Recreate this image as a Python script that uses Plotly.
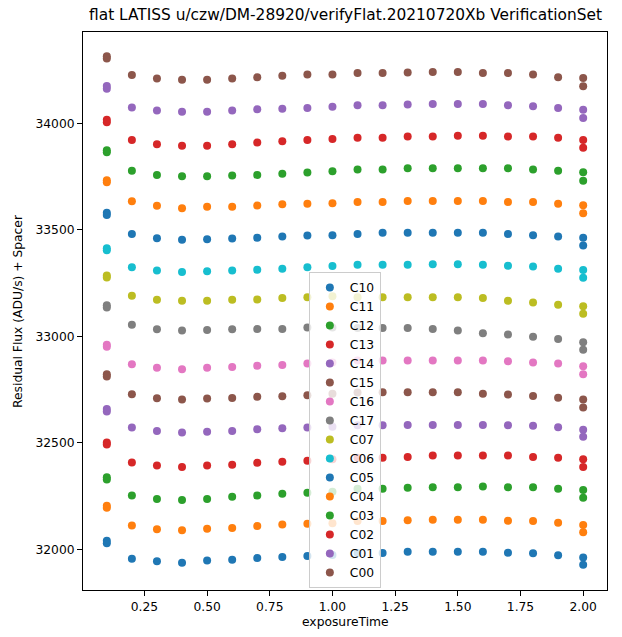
import plotly.graph_objects as go

exposure_time = [0.1, 0.1, 0.2, 0.3, 0.4, 0.5, 0.6, 0.7, 0.8, 0.9, 1.0,
                 1.1, 1.2, 1.3, 1.4, 1.5, 1.6, 1.7, 1.8, 1.9, 2.0, 2.0]

amp_names = ["C10", "C11", "C12", "C13", "C14", "C15", "C16", "C17",
             "C07", "C06", "C05", "C04", "C03", "C02", "C01", "C00"]

C10 = [32040, 32028, 31956, 31944, 31937, 31948, 31951, 31959, 31964, 31969, 31973,
       31983, 31983, 31989, 31989, 31989, 31989, 31984, 31981, 31972, 31962, 31928]
C11 = [32205, 32195, 32112, 32094, 32089, 32097, 32100, 32109, 32116, 32120, 32122,
       32133, 32133, 32136, 32139, 32139, 32139, 32134, 32133, 32125, 32114, 32080]
C12 = [32338, 32328, 32253, 32236, 32231, 32236, 32247, 32253, 32261, 32266, 32270,
       32284, 32284, 32289, 32291, 32291, 32295, 32291, 32291, 32284, 32278, 32242]
C13 = [32502, 32492, 32408, 32394, 32387, 32394, 32397, 32406, 32411, 32416, 32423,
       32430, 32430, 32434, 32441, 32441, 32441, 32441, 32434, 32430, 32423, 32387]
C14 = [32659, 32647, 32572, 32555, 32548, 32552, 32555, 32564, 32569, 32572, 32575,
       32583, 32583, 32584, 32584, 32584, 32584, 32583, 32580, 32573, 32562, 32528]
C15 = [32822, 32812, 32728, 32709, 32703, 32708, 32711, 32716, 32719, 32723, 32731,
       32736, 32737, 32737, 32737, 32737, 32731, 32727, 32720, 32712, 32703, 32666]
C16 = [32961, 32951, 32869, 32852, 32845, 32852, 32856, 32862, 32866, 32872, 32877,
       32887, 32886, 32887, 32887, 32887, 32887, 32883, 32877, 32872, 32859, 32822]
C17 = [33146, 33136, 33055, 33033, 33027, 33030, 33033, 33034, 33034, 33041, 33041,
       33039, 33039, 33039, 33034, 33028, 33014, 33009, 32998, 32988, 32972, 32937]
C07 = [33286, 33276, 33191, 33172, 33167, 33167, 33172, 33173, 33180, 33184, 33188,
       33184, 33184, 33184, 33184, 33183, 33180, 33167, 33159, 33148, 33141, 33106]
C06 = [33414, 33404, 33325, 33309, 33302, 33306, 33309, 33313, 33317, 33325, 33330,
       33336, 33336, 33336, 33339, 33339, 33336, 33331, 33328, 33317, 33311, 33275]
C05 = [33580, 33570, 33481, 33461, 33453, 33456, 33459, 33463, 33469, 33473, 33475,
       33481, 33486, 33486, 33486, 33486, 33486, 33481, 33475, 33469, 33463, 33427]
C04 = [33733, 33723, 33634, 33613, 33602, 33608, 33608, 33614, 33620, 33622, 33625,
       33631, 33631, 33636, 33636, 33636, 33636, 33631, 33631, 33622, 33616, 33578]
C03 = [33874, 33864, 33778, 33758, 33752, 33752, 33755, 33758, 33764, 33769, 33775,
       33783, 33783, 33789, 33789, 33789, 33789, 33789, 33783, 33777, 33770, 33731]
C02 = [34017, 34005, 33922, 33902, 33895, 33895, 33902, 33910, 33916, 33922, 33927,
       33933, 33933, 33938, 33938, 33942, 33942, 33938, 33938, 33933, 33922, 33885]
C01 = [34175, 34163, 34075, 34060, 34055, 34055, 34060, 34066, 34069, 34072, 34078,
       34085, 34085, 34089, 34091, 34091, 34091, 34085, 34080, 34072, 34064, 34025]
C00 = [34315, 34305, 34227, 34211, 34205, 34205, 34211, 34216, 34224, 34230, 34230,
       34236, 34236, 34239, 34241, 34241, 34236, 34236, 34230, 34217, 34213, 34174]

series = [C10, C11, C12, C13, C14, C15, C16, C17, C07, C06, C05, C04, C03, C02, C01, C00]

x_ticks = [0.25, 0.5, 0.75, 1.0, 1.25, 1.5, 1.75, 2.0]
y_ticks = [32000, 32500, 33000, 33500, 34000]

title_text = "flat LATISS u/czw/DM-28920/verifyFlat.20210720Xb VerificationSet"
x_label = "exposureTime"
y_label = "Residual Flux (ADU/s) + Spacer"

tab10 = ["#1f77b4", "#ff7f0e", "#2ca02c", "#d62728", "#9467bd",
         "#8c564b", "#e377c2", "#7f7f7f", "#bcbd22", "#17becf"]

FONT = "DejaVu Sans"
fig = go.Figure()
for i, (name, vals) in enumerate(zip(amp_names, series)):
    fig.add_trace(go.Scatter(
        x=exposure_time, y=vals, mode="markers", name=name,
        marker=dict(size=8, color=tab10[i % 10], line=dict(width=0)),
    ))

axis_common = dict(
    showline=True, linecolor="black", linewidth=1, mirror=True,
    ticks="outside", ticklen=5, tickwidth=1, tickcolor="black",
    showgrid=False, zeroline=False,
    tickfont=dict(family=FONT, size=12.3, color="black"),
)

fig.update_layout(
    width=622, height=637,
    margin=dict(l=83, r=15, t=32, b=47),
    paper_bgcolor="white", plot_bgcolor="white",
    font=dict(family=FONT, size=12.3, color="black"),
    xaxis=dict(range=[0.005, 2.095], tickvals=x_ticks,
               ticktext=[f"{v:.2f}" for v in x_ticks], **axis_common),
    yaxis=dict(range=[31809, 34429], tickvals=y_ticks,
               ticktext=[str(v) for v in y_ticks], **axis_common),
    showlegend=True,
    legend=dict(
        x=0.431, y=0.570, xanchor="left", yanchor="top",
        bgcolor="rgba(255,255,255,0.8)", bordercolor="#cccccc", borderwidth=1,
        font=dict(family=FONT, size=12.3, color="black"),
        tracegroupgap=0,
    ),
    annotations=[
        dict(text=title_text, xref="paper", yref="paper", x=0.5, y=1.0,
             yshift=17, xanchor="center", yanchor="middle", showarrow=False,
             font=dict(family=FONT, size=15.4, color="black")),
        dict(text=x_label, xref="paper", yref="paper", x=0.5, y=0.0,
             yshift=-32, xanchor="center", yanchor="middle", showarrow=False,
             font=dict(family=FONT, size=12.3, color="black")),
        dict(text=y_label, xref="paper", yref="paper", x=0.0, y=0.5,
             xshift=-65, xanchor="center", yanchor="middle", showarrow=False,
             textangle=-90,
             font=dict(family=FONT, size=12.3, color="black")),
    ],
)

fig.write_html(
    "out.html",
    config={"displayModeBar": False},
    post_script="document.body.style.margin='0';document.body.style.overflow='hidden';",
)
